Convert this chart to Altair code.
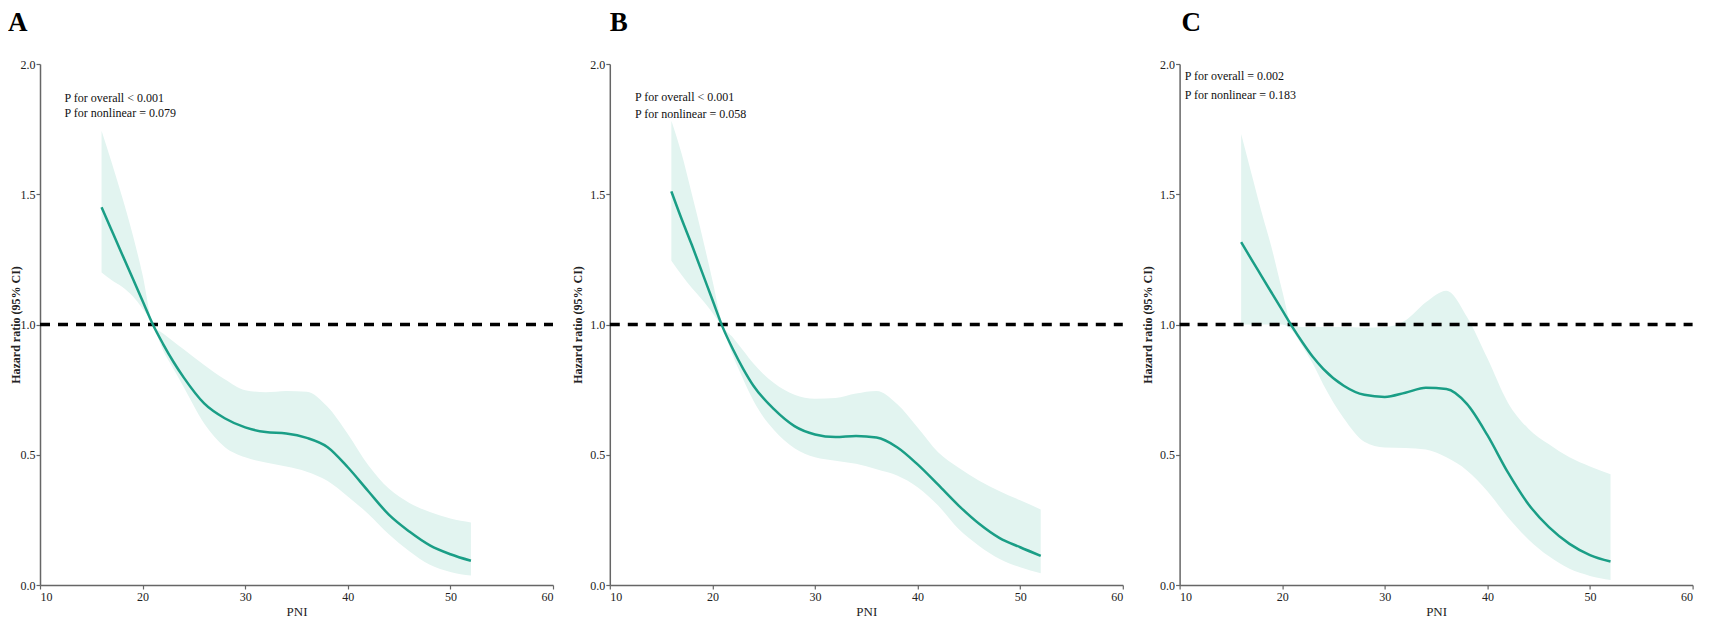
import altair as alt
import pandas as pd

# ---- data ----
pni = [16, 17, 18, 19, 20, 21, 22, 23, 24, 26, 28, 30, 32, 34, 36, 38, 40, 42, 44, 46, 48, 50, 52]

a_hr = [1.45, 1.36, 1.27, 1.18, 1.09, 1.00, 0.925, 0.857, 0.797, 0.697, 0.64, 0.605, 0.587, 0.582, 0.565, 0.53, 0.452, 0.36, 0.27, 0.205, 0.152, 0.118, 0.093]
a_hi = [1.744, 1.62, 1.49, 1.35, 1.19, 1.00, 0.965, 0.935, 0.905, 0.845, 0.79, 0.748, 0.74, 0.745, 0.742, 0.685, 0.58, 0.46, 0.37, 0.315, 0.28, 0.255, 0.24]
a_lo = [1.20, 1.17, 1.145, 1.11, 1.06, 1.00, 0.90, 0.83, 0.76, 0.62, 0.53, 0.49, 0.47, 0.455, 0.435, 0.40, 0.34, 0.273, 0.195, 0.13, 0.078, 0.05, 0.036]

b_hr = [1.511, 1.405, 1.305, 1.20, 1.095, 0.99, 0.905, 0.83, 0.765, 0.675, 0.61, 0.578, 0.568, 0.572, 0.566, 0.529, 0.463, 0.385, 0.305, 0.235, 0.18, 0.145, 0.112]
b_hi = [1.782, 1.655, 1.50, 1.34, 1.17, 1.00, 0.95, 0.90, 0.85, 0.775, 0.73, 0.715, 0.718, 0.735, 0.745, 0.695, 0.605, 0.51, 0.45, 0.40, 0.36, 0.325, 0.29]
b_lo = [1.245, 1.19, 1.14, 1.095, 1.045, 0.985, 0.88, 0.79, 0.707, 0.595, 0.525, 0.49, 0.477, 0.465, 0.444, 0.42, 0.375, 0.305, 0.215, 0.15, 0.10, 0.068, 0.045]

c_hr = [1.316, 1.25, 1.185, 1.12, 1.055, 0.99, 0.93, 0.875, 0.83, 0.765, 0.73, 0.722, 0.738, 0.757, 0.752, 0.695, 0.575, 0.432, 0.31, 0.222, 0.158, 0.115, 0.09]
c_hi = [1.731, 1.58, 1.43, 1.29, 1.13, 0.995, 0.99, 0.99, 0.99, 0.99, 0.988, 0.99, 1.015, 1.085, 1.13, 1.03, 0.87, 0.70, 0.60, 0.54, 0.49, 0.455, 0.425]
c_lo = [1.00, 1.00, 1.00, 1.00, 1.00, 0.975, 0.915, 0.848, 0.77, 0.64, 0.55, 0.528, 0.526, 0.52, 0.49, 0.44, 0.36, 0.26, 0.175, 0.11, 0.062, 0.035, 0.019]

letters = ["A", "B", "C"]
note_lines = [
    ["P for overall < 0.001", "P for nonlinear = 0.079"],
    ["P for overall < 0.001", "P for nonlinear = 0.058"],
    ["P for overall = 0.002", "P for nonlinear = 0.183"],
]
note_x = [12.4, 12.45, 10.5]
note_y = [[1.87, 1.81], [1.872, 1.808], [1.953, 1.882]]

x_ticks = [10, 20, 30, 40, 50, 60]
y_ticks = [0.0, 0.5, 1.0, 1.5, 2.0]
ref_line = {"PNI": [10], "PNI2": [60], "HR": [1.0]}

LINE = "#1a9e86"
BAND = "#e2f4f0"
FONT = "Liberation Serif"


def panel(i, hr, lo, hi, title_dx, ytitle_x):
    df = pd.DataFrame({"PNI": pni, "HR": hr, "Lower": lo, "Upper": hi})
    notes = pd.DataFrame({"PNI": [note_x[i]] * 2, "HR": note_y[i], "label": note_lines[i]})
    xs = alt.Scale(domain=[10, 60], nice=False, zero=False)
    ys = alt.Scale(domain=[0, 2], nice=False)
    xax = alt.Axis(values=x_ticks, format="d", title="PNI", titleFontWeight="normal",
                   titleFontSize=13, titlePadding=3, labelPadding=2)
    yax = alt.Axis(values=y_ticks, format=".1f", title="Hazard ratio (95% CI)",
                   titleFontWeight="bold", titleFontSize=12, titleX=ytitle_x,
                   titleBaseline="middle", labelPadding=1)
    X = lambda f: alt.X(f, scale=xs, axis=xax, title="PNI")
    Y = lambda f: alt.Y(f, scale=ys, axis=yax, title="Hazard ratio (95% CI)")
    band = alt.Chart(df).mark_area(color=BAND, opacity=1, interpolate="monotone").encode(
        x=X("PNI:Q"), y=Y("Lower:Q"), y2="Upper:Q",
    )
    ref = alt.Chart(pd.DataFrame(ref_line)).mark_rule(
        color="black", strokeWidth=3.5, strokeDash=[10, 8]).encode(
        x=X("PNI:Q"), x2="PNI2:Q", y=Y("HR:Q"),
    )
    line = alt.Chart(df).mark_line(color=LINE, strokeWidth=2.5, interpolate="monotone").encode(
        x=X("PNI:Q"), y=Y("HR:Q"),
    )
    text = alt.Chart(notes).mark_text(align="left", baseline="middle", font=FONT,
                                      fontSize=12, color="#111").encode(
        x=X("PNI:Q"), y=Y("HR:Q"), text="label:N",
    )
    return alt.layer(band, ref, line, text).properties(
        width=513, height=521,
        title=alt.TitleParams(letters[i], anchor="start", frame="group", dx=title_dx,
                              fontSize=27, font=FONT, fontWeight="bold", offset=21.5,
                              color="#000"),
    )


pa = panel(0, a_hr, a_lo, a_hi, -32, -25)
pb = panel(1, b_hr, b_lo, b_hi, 0, -32)
pc = panel(2, c_hr, c_lo, c_hi, 2, -32)

chart = alt.hconcat(pa, pb, pc, spacing=16.8, padding=0).configure_view(stroke=None).configure_axis(
    domainColor="#666", domainWidth=1.5, tickColor="#666", tickWidth=1.2, tickSize=4,
    grid=False, labelFont=FONT, labelFontSize=12, labelColor="#222",
    titleFont=FONT, titleColor="#222",
)

chart.save("out.html", embed_options={"renderer": "svg", "actions": False})
